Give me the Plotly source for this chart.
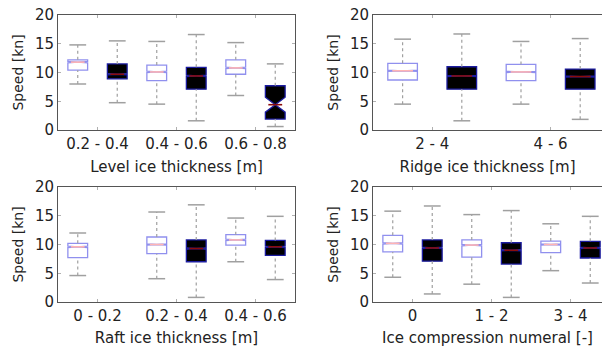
import plotly.graph_objects as go

W, H = 602, 347

# ---------------- data ----------------
# Panel A: Level ice thickness
level_ticks = ["0.2 - 0.4", "0.4 - 0.6", "0.6 - 0.8"]
level_w_pos = [1, 3, 5]
level_w_lo = [8.0, 4.5, 6.0]
level_w_q1 = [10.4, 8.6, 9.7]
level_w_med = [11.8, 10.1, 10.8]
level_w_q3 = [12.2, 11.3, 12.2]
level_w_hi = [14.8, 15.4, 15.2]
level_w_notch = [0.12, 0.12, 0.12]
level_b_pos = [2, 4, 6]
level_b_lo = [4.75, 1.6, 0.6]
level_b_q1 = [8.9, 7.1, 1.9]
level_b_med = [9.7, 9.4, 4.4]
level_b_q3 = [11.5, 10.9, 7.7]
level_b_hi = [15.5, 16.6, 11.5]
level_b_notch = [0.12, 0.12, 1.3]

# Panel B: Ridge ice thickness
ridge_ticks = ["2 - 4", "4 - 6"]
ridge_w_pos = [1, 3]
ridge_w_lo = [4.5, 4.5]
ridge_w_q1 = [8.7, 8.6]
ridge_w_med = [10.3, 10.1]
ridge_w_q3 = [11.6, 11.4]
ridge_w_hi = [15.8, 15.4]
ridge_w_notch = [0.1, 0.1]
ridge_b_pos = [2, 4]
ridge_b_lo = [1.6, 1.85]
ridge_b_q1 = [7.1, 7.1]
ridge_b_med = [9.4, 9.3]
ridge_b_q3 = [11.0, 10.6]
ridge_b_hi = [16.7, 15.9]
ridge_b_notch = [0.1, 0.1]

# Panel C: Raft ice thickness
raft_ticks = ["0 - 0.2", "0.2 - 0.4", "0.4 - 0.6"]
raft_w_pos = [1, 3, 5]
raft_w_lo = [4.6, 4.05, 7.0]
raft_w_q1 = [7.7, 8.4, 9.9]
raft_w_med = [9.6, 10.0, 10.8]
raft_w_q3 = [10.2, 11.3, 11.7]
raft_w_hi = [12.0, 15.65, 14.6]
raft_w_notch = [0.12, 0.12, 0.12]
raft_b_pos = [4, 6]
raft_b_lo = [0.8, 3.9]
raft_b_q1 = [7.0, 8.1]
raft_b_med = [9.3, 9.6]
raft_b_q3 = [10.8, 10.7]
raft_b_hi = [16.9, 14.9]
raft_b_notch = [0.12, 0.12]

# Panel D: Ice compression numeral
comp_ticks = ["0", "1 - 2", "3 - 4"]
comp_w_pos = [1, 3, 5]
comp_w_lo = [4.3, 3.1, 5.45]
comp_w_q1 = [8.7, 7.8, 8.6]
comp_w_med = [10.2, 9.9, 10.0]
comp_w_q3 = [11.6, 10.8, 10.6]
comp_w_hi = [15.8, 15.2, 13.6]
comp_w_notch = [0.12, 0.12, 0.12]
comp_b_pos = [2, 4, 6]
comp_b_lo = [1.4, 0.8, 3.3]
comp_b_q1 = [7.1, 6.6, 7.65]
comp_b_med = [9.4, 9.0, 9.4]
comp_b_q3 = [10.8, 10.3, 10.55]
comp_b_hi = [16.7, 15.9, 14.9]
comp_b_notch = [0.12, 0.12, 0.12]

# ---------------- styling ----------------
FONT = "DejaVu Sans"
TXT = "#222222"
FRAME = "#555555"
WHITE_LINE = "#9090ee"
WHITE_MED = "#ffb4b4"
BLACK_LINE = "#1c1ca0"
BLACK_MED = "#8a0c0c"
WHISK = "#a0a0a0"
BOXW = 0.5

panels = [
    dict(n=1, ticks=level_ticks, title="Level ice thickness [m]",
         dom_x=(58, 295), dom_y=(15, 130), xr=(0.5, 6.5), right=False,
         w=(level_w_pos, level_w_lo, level_w_q1, level_w_med, level_w_q3, level_w_hi, level_w_notch),
         b=(level_b_pos, level_b_lo, level_b_q1, level_b_med, level_b_q3, level_b_hi, level_b_notch)),
    dict(n=2, ticks=ridge_ticks, title="Ridge ice thickness [m]",
         dom_x=(373, 602), dom_y=(15, 130), xr=(0.5, 0.5 + 229 / 59.2), right=True,
         w=(ridge_w_pos, ridge_w_lo, ridge_w_q1, ridge_w_med, ridge_w_q3, ridge_w_hi, ridge_w_notch),
         b=(ridge_b_pos, ridge_b_lo, ridge_b_q1, ridge_b_med, ridge_b_q3, ridge_b_hi, ridge_b_notch)),
    dict(n=3, ticks=raft_ticks, title="Raft ice thickness [m]",
         dom_x=(58, 295), dom_y=(187, 302), xr=(0.5, 6.5), right=False,
         w=(raft_w_pos, raft_w_lo, raft_w_q1, raft_w_med, raft_w_q3, raft_w_hi, raft_w_notch),
         b=(raft_b_pos, raft_b_lo, raft_b_q1, raft_b_med, raft_b_q3, raft_b_hi, raft_b_notch)),
    dict(n=4, ticks=comp_ticks, title="Ice compression numeral [-]",
         dom_x=(373, 602), dom_y=(187, 302), xr=(0.5, 0.5 + 229 / 39.5), right=True,
         w=(comp_w_pos, comp_w_lo, comp_w_q1, comp_w_med, comp_w_q3, comp_w_hi, comp_w_notch),
         b=(comp_b_pos, comp_b_lo, comp_b_q1, comp_b_med, comp_b_q3, comp_b_hi, comp_b_notch)),
]

fig = go.Figure()
layout = dict(
    width=W, height=H, margin=dict(l=0, r=0, t=0, b=0),
    paper_bgcolor="white", plot_bgcolor="white", showlegend=False,
    boxmode="overlay",
    font=dict(family=FONT, size=15, color=TXT),
)

for p in panels:
    n = p["n"]
    xa = "x" if n == 1 else f"x{n}"
    ya = "y" if n == 1 else f"y{n}"
    px_per_unit = (p["dom_x"][1] - p["dom_x"][0]) / (p["xr"][1] - p["xr"][0])
    med_len = BOXW * 0.5 * px_per_unit

    for key, line_c, fill_c, med_c in (("w", WHITE_LINE, "white", WHITE_MED),
                                        ("b", BLACK_LINE, "black", BLACK_MED)):
        pos, lo, q1, med, q3, hi, notch = p[key]
        # whiskers (dotted gray)
        wx, wy = [], []
        for i in range(len(pos)):
            wx += [pos[i], pos[i], None, pos[i], pos[i], None]
            wy += [lo[i], q1[i], None, q3[i], hi[i], None]
        fig.add_trace(go.Scatter(x=wx, y=wy, mode="lines", xaxis=xa, yaxis=ya,
                                 line=dict(color=WHISK, width=1.2, dash="dot"),
                                 hoverinfo="skip"))
        # caps
        fig.add_trace(go.Scatter(x=pos + pos, y=lo + hi, mode="markers", xaxis=xa, yaxis=ya,
                                 marker=dict(symbol="line-ew", size=12,
                                             line=dict(color=WHISK, width=1.5)),
                                 hoverinfo="skip"))
        # boxes
        fig.add_trace(go.Box(x=pos, q1=q1, median=med, q3=q3,
                             lowerfence=q1, upperfence=q3,
                             notched=True, notchspan=notch, notchwidth=0.5,
                             width=BOXW, whiskerwidth=0, boxpoints=False,
                             fillcolor=fill_c, line=dict(color=line_c, width=1.3),
                             xaxis=xa, yaxis=ya, hoverinfo="skip"))
        # median line
        fig.add_trace(go.Scatter(x=pos, y=med, mode="markers", xaxis=xa, yaxis=ya,
                                 marker=dict(symbol="line-ew", size=med_len,
                                             line=dict(color=med_c, width=1.6)),
                                 hoverinfo="skip"))

    x0, x1 = p["dom_x"]
    y0, y1 = p["dom_y"]
    tickvals = [2 * i + 1.5 for i in range(len(p["ticks"]))]
    layout["xaxis" if n == 1 else f"xaxis{n}"] = dict(
        domain=[x0 / W, x1 / W], anchor=ya, range=list(p["xr"]),
        tickvals=tickvals, ticktext=p["ticks"],
        ticks="inside", ticklen=3, tickcolor="#b0b0b0",
        showline=True, linecolor=FRAME, linewidth=1, mirror="allticks",
        showgrid=False, zeroline=False, automargin=False,
        tickfont=dict(size=15, color=TXT),
        title=dict(text=p["title"], font=dict(size=15, color=TXT), standoff=9),
    )
    layout["yaxis" if n == 1 else f"yaxis{n}"] = dict(
        domain=[1 - y1 / H, 1 - y0 / H], anchor=xa, range=[0, 20],
        tickvals=[0, 5, 10, 15, 20],
        ticks="inside", ticklen=3, tickcolor="#b0b0b0",
        showline=True, linecolor=FRAME, linewidth=1,
        mirror=False if p["right"] else "allticks",
        showgrid=False, zeroline=False, automargin=False,
        tickfont=dict(size=15, color=TXT),
        title=dict(text="Speed [kn]", font=dict(size=14, color=TXT), standoff=8),
    )

fig.update_layout(**layout)
fig.write_html("out.html")
